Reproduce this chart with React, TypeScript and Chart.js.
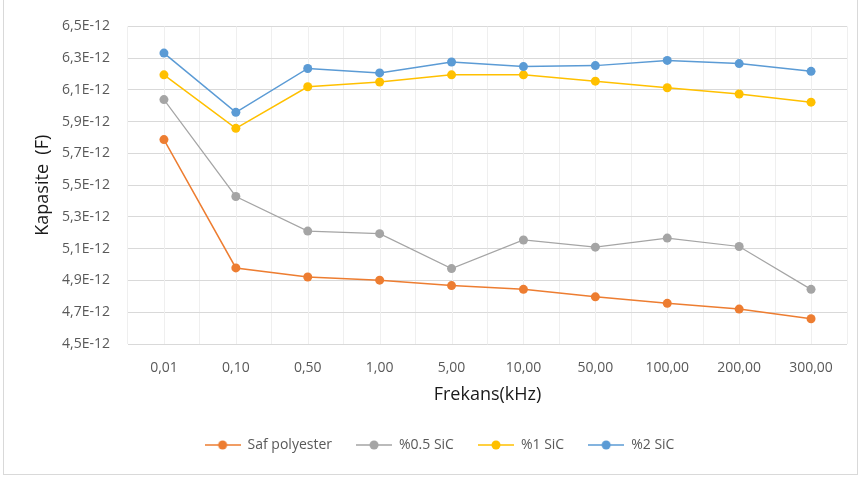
import React, { useEffect, useRef } from "react";
import { Chart, registerables } from "chart.js";

Chart.register(...registerables);

const categories = ["0,01", "0,10", "0,50", "1,00", "5,00", "10,00", "50,00", "100,00", "200,00", "300,00"];
const seriesNames = ["Saf polyester", "%0.5 SiC", "%1 SiC", "%2 SiC"];
const safPolyester = [5.787e-12, 4.979e-12, 4.922e-12, 4.902e-12, 4.868e-12, 4.844e-12, 4.797e-12, 4.756e-12, 4.72e-12, 4.659e-12];
const sic05 = [6.039e-12, 5.429e-12, 5.211e-12, 5.195e-12, 4.975e-12, 5.155e-12, 5.11e-12, 5.167e-12, 5.114e-12, 4.844e-12];
const sic1 = [6.195e-12, 5.858e-12, 6.12e-12, 6.15e-12, 6.195e-12, 6.195e-12, 6.155e-12, 6.114e-12, 6.074e-12, 6.023e-12];
const sic2 = [6.332e-12, 5.959e-12, 6.235e-12, 6.207e-12, 6.276e-12, 6.247e-12, 6.253e-12, 6.286e-12, 6.266e-12, 6.217e-12];
const yTicks = [4.5e-12, 4.7e-12, 4.9e-12, 5.1e-12, 5.3e-12, 5.5e-12, 5.7e-12, 5.9e-12, 6.1e-12, 6.3e-12, 6.5e-12];
const yTickLabels = ["4,5E-12", "4,7E-12", "4,9E-12", "5,1E-12", "5,3E-12", "5,5E-12", "5,7E-12", "5,9E-12", "6,1E-12", "6,3E-12", "6,5E-12"];
const colors = ["#ED7D31", "#A5A5A5", "#FFC000", "#5B9BD5"];

const FONT = "'Open Sans'";

function makeLegendIcon(color: string) {
  const c = document.createElement("canvas");
  c.width = 36;
  c.height = 10;
  const ctx = c.getContext("2d")!;
  ctx.strokeStyle = color;
  ctx.lineWidth = 1.5;
  ctx.beginPath();
  ctx.moveTo(0, 5);
  ctx.lineTo(36, 5);
  ctx.stroke();
  ctx.fillStyle = color;
  ctx.beginPath();
  ctx.arc(18, 5, 4.5, 0, Math.PI * 2);
  ctx.fill();
  return c;
}

const centerGridPlugin = {
  id: "centerGrid",
  beforeDatasetsDraw(chart: any) {
    const x = chart.scales.x;
    const area = chart.chartArea;
    const ctx = chart.ctx;
    ctx.save();
    ctx.strokeStyle = "#efefef";
    ctx.lineWidth = 1;
    for (let i = 0; i < categories.length; i++) {
      const px = Math.round(x.getPixelForValue(i)) + 0.5;
      ctx.beginPath();
      ctx.moveTo(px, area.top);
      ctx.lineTo(px, area.bottom);
      ctx.stroke();
    }
    ctx.restore();
  },
};

export default function App() {
  const ref = useRef<HTMLCanvasElement>(null);
  useEffect(() => {
    const data = [safPolyester, sic05, sic1, sic2];
    const icons = colors.map(makeLegendIcon);
    const chart = new Chart(ref.current!, {
      type: "line",
      data: {
        labels: categories,
        datasets: data.map((d, i) => ({
          label: seriesNames[i],
          data: d,
          borderColor: colors[i],
          backgroundColor: colors[i],
          borderWidth: i === 1 ? 1.2 : 1.5,
          pointRadius: 4.5,
          pointBorderWidth: 0,
          pointBackgroundColor: colors[i],
          pointStyle: "circle",
          tension: 0,
          fill: false,
          order: 4 - i,
        })),
      },
      options: {
        responsive: false,
        animation: false,
        devicePixelRatio: 1,
        layout: { padding: { top: 14, left: 32, right: 13, bottom: 16 } },
        plugins: {
          legend: {
            position: "bottom",
            labels: {
              usePointStyle: true,
              pointStyleWidth: 36,
              padding: 24,
              color: "#595959",
              font: { family: FONT, size: 14 },
              generateLabels: () =>
                seriesNames.map((n, i) => ({
                  text: n,
                  pointStyle: icons[i] as any,
                  fillStyle: colors[i],
                  strokeStyle: colors[i],
                  lineWidth: 0,
                  hidden: false,
                  datasetIndex: i,
                  fontColor: "#595959",
                })),
            },
          },
          tooltip: { enabled: false },
        },
        scales: {
          x: {
            type: "category",
            offset: true,
            grid: { offset: true, color: "#efefef", drawTicks: false },
            border: { display: false },
            ticks: { color: "#595959", font: { family: FONT, size: 14 }, padding: 16, maxRotation: 0, autoSkip: false },
            title: {
              display: true,
              text: "Frekans(kHz)",
              color: "#1a1a1a",
              font: { family: FONT, size: 18 },
              padding: { top: 0, bottom: 8 },
            },
            afterFit(scale: any) {
              scale.height = 70;
            },
          },
          y: {
            min: yTicks[0],
            max: yTicks[yTicks.length - 1],
            grid: { color: "#d9d9d9", drawTicks: false },
            border: { display: false },
            afterBuildTicks(scale: any) {
              scale.ticks = yTicks.map((v) => ({ value: v }));
            },
            ticks: {
              color: "#595959",
              font: { family: FONT, size: 14 },
              padding: 18,
              callback: (_v: any, i: number) => yTickLabels[i],
            },
            title: {
              display: true,
              text: "Kapasite  (F)",
              color: "#1a1a1a",
              font: { family: FONT, size: 18 },
              padding: { top: 0, bottom: 0 },
            },
            afterFit(scale: any) {
              scale.width = 96;
            },
          },
        },
      },
      plugins: [centerGridPlugin],
    });
    return () => chart.destroy();
  }, []);
  return (
    <div style={{ position: "fixed", left: 0, top: 0, width: 860, height: 478, background: "#fff" }}>
      <div
        style={{
          position: "absolute",
          left: 3,
          top: -2,
          width: 855,
          height: 477,
          border: "1px solid #d9d9d9",
          boxSizing: "border-box",
        }}
      />
      <canvas ref={ref} width={860} height={478} style={{ position: "absolute", left: 0, top: 0, width: 860, height: 478 }} />
    </div>
  );
}
